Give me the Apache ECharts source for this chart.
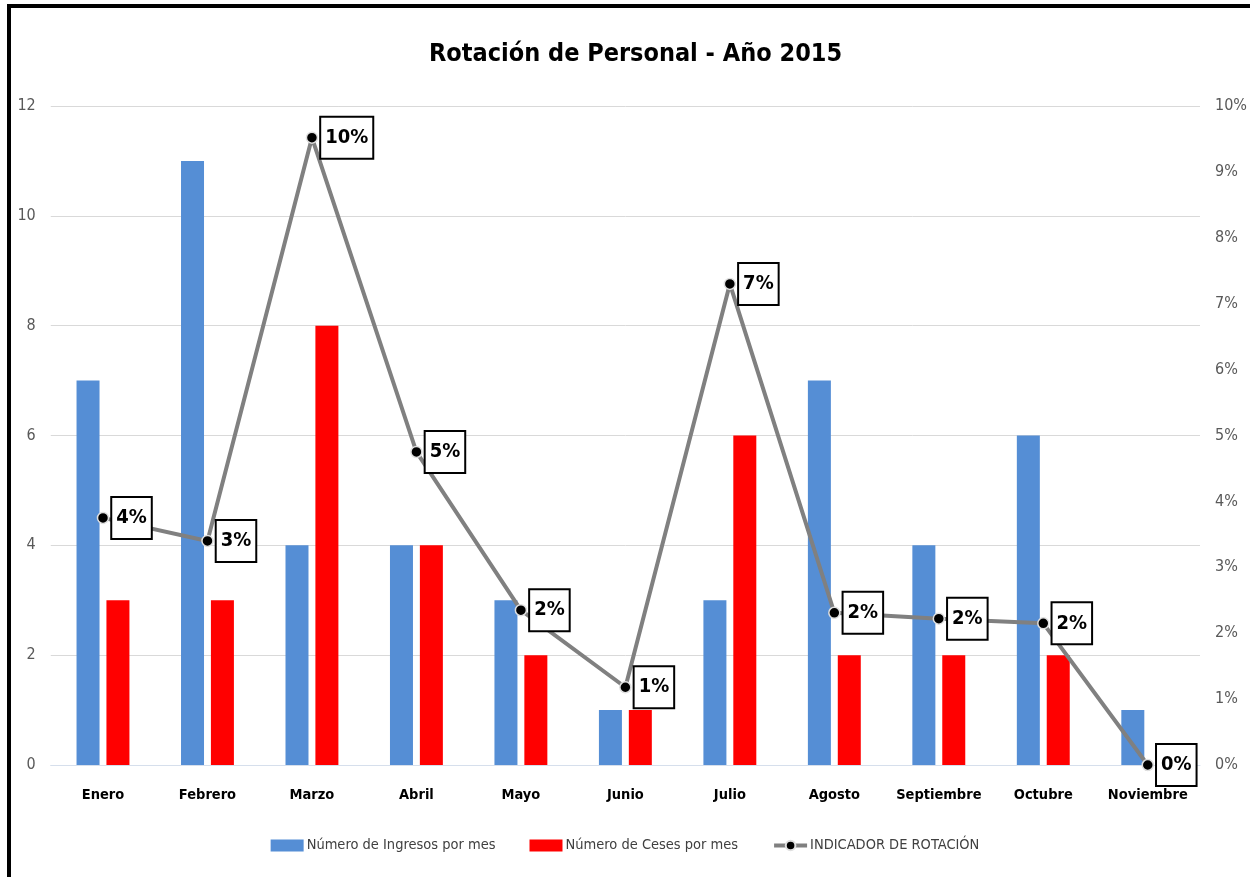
<!DOCTYPE html>
<html>
<head>
<meta charset="utf-8">
<script src="https://cdn.jsdelivr.net/npm/echarts@6/dist/echarts.min.js"></script>
<style>
html,body{margin:0;padding:0;background:#fff;overflow:hidden;}
#chart{position:absolute;left:0;top:0;width:1250px;height:877px;}
#frame{position:absolute;left:7px;top:4px;width:1400px;height:1000px;border:4px solid #000;pointer-events:none;box-sizing:border-box;}
</style>
</head>
<body>
<div id="chart"></div>
<div id="frame"></div>
<script>
const categories = ['Enero','Febrero','Marzo','Abril','Mayo','Junio','Julio','Agosto','Septiembre','Octubre','Noviembre'];
const ingresos = [7, 11, 4, 4, 3, 1, 3, 7, 4, 6, 1];
const ceses = [3, 3, 8, 4, 2, 1, 6, 2, 2, 2, 0];
const rotacion = [3.75, 3.40, 9.52, 4.75, 2.35, 1.18, 7.30, 2.31, 2.22, 2.15, 0];
const seriesNames = ['Número de Ingresos por mes', 'Número de Ceses por mes', 'INDICADOR DE ROTACIÓN'];
const titleText = 'Rotación de Personal - Año 2015';

const FONT = '"Liberation Sans Narrow", "DejaVu Sans Condensed", "Open Sans", sans-serif';
const chart = echarts.init(document.getElementById('chart'), null, {renderer: 'canvas'});
chart.setOption({
  backgroundColor: '#fff',
  animation: false,
  textStyle: {fontFamily: FONT},
  title: {
    text: titleText,
    left: 424,
    top: 37,
    textStyle: {fontFamily: FONT, fontSize: 25, fontWeight: 'bold', color: '#000'}
  },
  legend: {
    bottom: 19,
    left: 'center',
    itemWidth: 33,
    itemHeight: 12,
    itemGap: 34,
    textStyle: {fontFamily: FONT, fontSize: 14.5, color: '#404040', padding: [0,0,0,-2]},
    data: [
      {name: seriesNames[0], icon: 'rect'},
      {name: seriesNames[1], icon: 'rect'},
      {name: seriesNames[2], lineStyle: {width: 4, color: '#808080'}}
    ]
  },
  grid: {left: 50.75, right: 49.75, top: 106, bottom: 112, containLabel: false},
  xAxis: {
    type: 'category',
    data: categories,
    axisTick: {show: false},
    axisLine: {lineStyle: {color: '#d6dfec', width: 1}},
    axisLabel: {interval: 0, fontFamily: FONT, fontSize: 14.5, fontWeight: 'bold', color: '#000', margin: 23}
  },
  yAxis: [
    {
      type: 'value', min: 0, max: 12, interval: 2,
      axisLine: {show: false}, axisTick: {show: false},
      splitLine: {lineStyle: {color: '#d9d9d9', width: 1}},
      axisLabel: {fontFamily: FONT, fontSize: 16, color: '#595959', margin: 15}
    },
    {
      type: 'value', min: 0, max: 10, interval: 1,
      axisLine: {show: false}, axisTick: {show: false},
      splitLine: {show: false},
      axisLabel: {fontFamily: FONT, fontSize: 16, color: '#595959', margin: 15, formatter: '{value}%'}
    }
  ],
  series: [
    {
      name: seriesNames[0], type: 'bar', data: ingresos,
      barWidth: 23, barGap: '30%',
      itemStyle: {color: '#558ED5'}
    },
    {
      name: seriesNames[1], type: 'bar', data: ceses,
      barWidth: 23, barGap: '30%',
      itemStyle: {color: '#FF0000'}
    },
    {
      name: seriesNames[2], type: 'line', yAxisIndex: 1, data: rotacion,
      z: 10,
      symbol: 'circle', symbolSize: 11,
      lineStyle: {color: '#808080', width: 4},
      itemStyle: {color: '#000', borderColor: '#e0e0e0', borderWidth: 1.5},
      label: {
        show: true, position: 'right', distance: 3,
        formatter: p => Math.round(p.value) + '%',
        fontFamily: FONT, fontSize: 20, fontWeight: 'bold', color: '#000',
        backgroundColor: '#fff', borderColor: '#000', borderWidth: 2,
        padding: [11, 4, 9, 4]
      }
    }
  ]
});
</script>
</body>
</html>
